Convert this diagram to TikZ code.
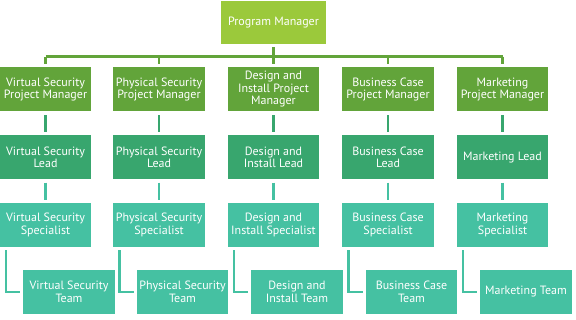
\documentclass[tikz,border=0pt]{standalone}
\usepackage{fontspec}
\setmainfont{PT Sans}
\definecolor{topc}{HTML}{9BC93B}
\definecolor{pmc}{HTML}{62A43A}
\definecolor{leadc}{HTML}{38A66E}
\definecolor{specc}{HTML}{45C1A2}
\begin{document}
\begin{tikzpicture}[x=1pt,y=-1pt,
  box/.style={rectangle, inner sep=0pt, minimum width=91.5pt, minimum height=44pt,
    align=center, text=white, font=\fontsize{12}{12.5}\selectfont},
  topbox/.style={box, fill=topc, minimum width=105pt, minimum height=43pt},
  pmbox/.style={box, fill=pmc},
  leadbox/.style={box, fill=leadc},
  specbox/.style={box, fill=specc},
  teambox/.style={box, fill=specc},
  busline/.style={draw=pmc, line width=2.5pt},
  leadline/.style={draw=leadc, line width=2.5pt, shorten <=3.5pt, shorten >=3.5pt},
  specline/.style={draw=specc, line width=2.5pt, shorten <=3pt, shorten >=3pt},
  elbowline/.style={draw=specc, line width=2.5pt, shorten <=3pt, shorten >=3pt},
]
\useasboundingbox (0,0) rectangle (576,320);

\node[topbox] (top) at (273.5,22.5) {Program Manager};

\foreach \n/\x/\pm/\ld/\sp/\tm in {
  a/45.5/{Virtual Security\\Project Manager}/{Virtual Security\\Lead}/{Virtual Security\\Specialist}/{Virtual Security\\Team},
  b/159/{Physical Security\\Project Manager}/{Physical Security\\Lead}/{Physical Security\\Specialist}/{Physical Security\\Team},
  c/273.5/{Design and\\Install Project\\Manager}/{Design and\\Install Lead}/{Design and\\Install Specialist}/{Design and\\Install Team},
  d/388/{Business Case\\Project Manager}/{Business Case\\Lead}/{Business Case\\Specialist}/{Business Case\\Team},
  e/502.5/{Marketing\\Project Manager}/{Marketing Lead}/{Marketing\\Specialist}/{Marketing Team}}{
  \node[pmbox] (pm\n) at (\x,89.5) {\pm};
  \node[leadbox] (ld\n) at (\x,157.5) {\ld};
  \node[specbox] (sp\n) at (\x,225) {\sp};
  \node[teambox] (tm\n) at (\x+23.5,292) {\tm};
}

\draw[busline, shorten <=3pt] (top.south) -- ++(0,12.5) coordinate (bj);
\draw[busline] (pma.north |- bj) -- (pme.north |- bj);
\foreach \n in {a,b,c,d,e}{
  \draw[busline, shorten >=3.5pt] (pm\n.north |- bj) -- (pm\n.north);
  \draw[leadline] (pm\n.south) -- (ld\n.north);
  \draw[specline] (ld\n.south) -- (sp\n.north);
  \draw[elbowline] ([xshift=6.5pt]sp\n.south west) |- (tm\n.west);
}
\end{tikzpicture}
\end{document}
